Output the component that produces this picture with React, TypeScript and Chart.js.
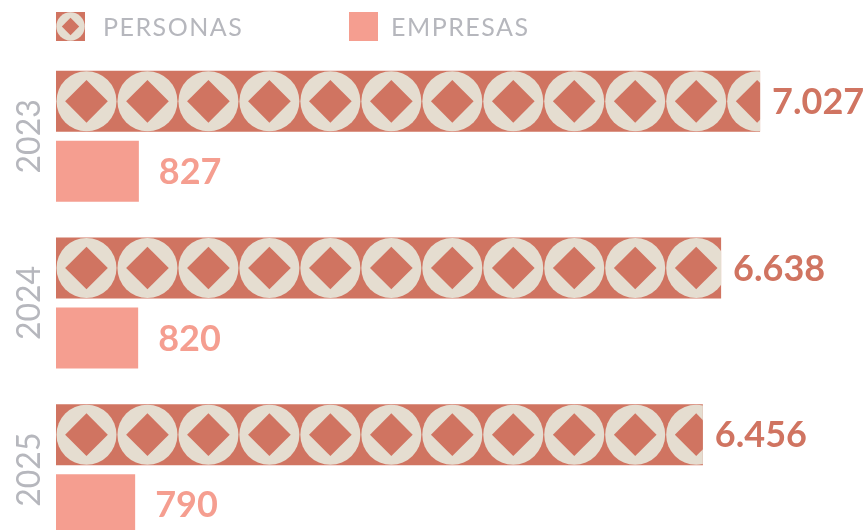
import React, { useEffect, useRef } from "react";
import { Chart, registerables } from "chart.js";

Chart.register(...registerables);

const years = ["2023", "2024", "2025"];
const personas = [7027, 6638, 6456];
const empresas = [827, 820, 790];
const seriesNames = ["PERSONAS", "EMPRESAS"];

const TERRACOTTA = "#D07461";
const CREAM = "#E5DDD0";
const SALMON = "#F59E90";
const GREY = "#B6B7BD";
const FONT = "Lato, 'Noto Sans', sans-serif";

function fmt(v: number): string {
  const s = String(Math.round(v));
  return s.replace(/\B(?=(\d{3})+(?!\d))/g, ".");
}

function drawTile(ctx: CanvasRenderingContext2D, cx: number, cy: number, size: number) {
  ctx.fillStyle = CREAM;
  ctx.beginPath();
  ctx.arc(cx, cy, size * 0.492, 0, Math.PI * 2);
  ctx.fill();
  const d = size * 0.35;
  ctx.fillStyle = TERRACOTTA;
  ctx.beginPath();
  ctx.moveTo(cx, cy - d);
  ctx.lineTo(cx + d, cy);
  ctx.lineTo(cx, cy + d);
  ctx.lineTo(cx - d, cy);
  ctx.closePath();
  ctx.fill();
}

const patternPlugin = {
  id: "patternBars",
  afterDatasetDraw(chart: any, args: any) {
    if (args.index !== 0) return;
    const ctx = chart.ctx as CanvasRenderingContext2D;
    args.meta.data.forEach((el: any) => {
      const { x, y, base, height } = el.getProps(["x", "y", "base", "height"], true);
      const left = Math.min(x, base);
      const right = Math.max(x, base);
      const top = y - height / 2;
      ctx.save();
      ctx.beginPath();
      ctx.rect(left, top, right - left, height);
      ctx.clip();
      const P = height;
      for (let cx = left + P / 2; cx - P / 2 < right; cx += P) {
        drawTile(ctx, cx, y, P);
      }
      ctx.restore();
    });
  },
};

const labelPlugin = {
  id: "valueLabels",
  afterDatasetsDraw(chart: any) {
    const ctx = chart.ctx as CanvasRenderingContext2D;
    ctx.save();
    ctx.font = `bold 36px ${FONT}`;
    ctx.textAlign = "left";
    ctx.textBaseline = "middle";
    chart.data.datasets.forEach((ds: any, di: number) => {
      const meta = chart.getDatasetMeta(di);
      const off = di === 0 ? 12 : 20;
      ctx.fillStyle = di === 0 ? TERRACOTTA : SALMON;
      meta.data.forEach((el: any, i: number) => {
        const { x, y } = el.getProps(["x", "y"], true);
        ctx.fillText(fmt(ds.data[i]), x + off, y + 1);
      });
    });
    // year labels
    const ys = chart.scales.y;
    ctx.font = `32px ${FONT}`;
    ctx.fillStyle = GREY;
    ctx.textAlign = "center";
    ctx.textBaseline = "middle";
    years.forEach((yr, i) => {
      const py = ys.getPixelForValue(i);
      ctx.save();
      ctx.translate(30, py);
      ctx.rotate(-Math.PI / 2);
      ctx.fillText(yr, 0, 0);
      ctx.restore();
    });
    ctx.restore();

    // legend
    ctx.save();
    ctx.font = `25px ${FONT}`;
    (ctx as any).letterSpacing = "1.5px";
    ctx.textAlign = "left";
    ctx.textBaseline = "alphabetic";
    const box = 29;
    const bx = 56;
    const by = 12;
    ctx.fillStyle = TERRACOTTA;
    ctx.fillRect(bx, by, box, box);
    ctx.fillStyle = CREAM;
    ctx.beginPath();
    ctx.arc(bx + box / 2, by + box / 2, box * 0.49, 0, Math.PI * 2);
    ctx.fill();
    const d = box * 0.3;
    ctx.fillStyle = TERRACOTTA;
    ctx.beginPath();
    ctx.moveTo(bx + box / 2, by + box / 2 - d);
    ctx.lineTo(bx + box / 2 + d, by + box / 2);
    ctx.lineTo(bx + box / 2, by + box / 2 + d);
    ctx.lineTo(bx + box / 2 - d, by + box / 2);
    ctx.closePath();
    ctx.fill();
    ctx.fillStyle = GREY;
    ctx.fillText(seriesNames[0], 103, 36);
    ctx.fillStyle = SALMON;
    ctx.fillRect(349, by, box, box);
    ctx.fillStyle = GREY;
    ctx.fillText(seriesNames[1], 391, 36);
    ctx.restore();
  },
};

export default function App() {
  const ref = useRef<HTMLCanvasElement | null>(null);
  useEffect(() => {
    document.body.style.margin = "0";
    document.body.style.overflow = "hidden";
    document.documentElement.style.overflow = "hidden";
    let chart: Chart | null = null;
    let cancelled = false;
    const fontsReady = (document as any).fonts
      ? Promise.all([
          (document as any).fonts.load(`bold 36px Lato`),
          (document as any).fonts.load(`32px Lato`),
          (document as any).fonts.load(`25px Lato`),
        ]).catch(() => null)
      : Promise.resolve(null);
    fontsReady.then(() => {
      if (cancelled || !ref.current) return;
      chart = new Chart(ref.current, {
        type: "bar",
        data: {
          labels: years,
          datasets: [
            {
              label: seriesNames[0],
              data: personas,
              backgroundColor: TERRACOTTA,
              borderWidth: 0,
              categoryPercentage: 0.84,
              barPercentage: 0.871,
            },
            {
              label: seriesNames[1],
              data: empresas,
              backgroundColor: SALMON,
              borderWidth: 0,
              categoryPercentage: 0.84,
              barPercentage: 0.871,
            },
          ],
        },
        options: {
          indexAxis: "y",
          responsive: false,
          animation: false,
          layout: { padding: { left: 56, top: 53, right: 0, bottom: 0 } },
          plugins: {
            legend: { display: false },
            tooltip: { enabled: false },
          },
          scales: {
            x: { display: false, min: 0, max: 8104 },
            y: { display: false },
          },
        },
        plugins: [patternPlugin, labelPlugin],
      });
    });
    return () => {
      cancelled = true;
      if (chart) chart.destroy();
    };
  }, []);
  return (
    <div style={{ width: 868, height: 553 }}>
      <canvas ref={ref} width={868} height={553} style={{ display: "block" }} />
    </div>
  );
}
